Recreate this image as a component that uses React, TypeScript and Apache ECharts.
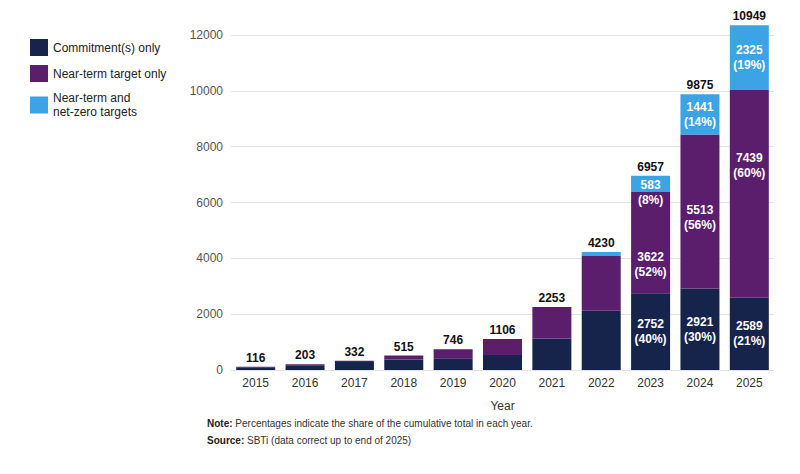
import React, { useEffect, useRef } from "react";
import * as echarts from "echarts";

// Companies with SBTi commitments / targets, cumulative per year
const years = ["2015", "2016", "2017", "2018", "2019", "2020", "2021", "2022", "2023", "2024", "2025"];
const commitmentOnly = [100, 170, 290, 380, 420, 540, 1130, 2120, 2752, 2921, 2589];
const nearTermOnly = [16, 33, 42, 135, 326, 566, 1123, 1960, 3622, 5513, 7439];
const nearAndNetZero = [0, 0, 0, 0, 0, 0, 0, 150, 583, 1441, 2325];
const totals = [116, 203, 332, 515, 746, 1106, 2253, 4230, 6957, 9875, 10949];

// Shares of the cumulative total (only labelled for the last three years)
const commitmentPct: (number | null)[] = [null, null, null, null, null, null, null, null, 40, 30, 21];
const nearTermPct: (number | null)[] = [null, null, null, null, null, null, null, null, 52, 56, 60];
const netZeroPct: (number | null)[] = [null, null, null, null, null, null, null, null, 8, 14, 19];

const yTicks = { min: 0, max: 12000, interval: 2000 };

const COLORS = { commit: "#16234b", near: "#5a1e6c", netZero: "#3ca3e4" };
const FONT = "'Liberation Sans', Arial, sans-serif";

function segmentData(values: number[], pcts: (number | null)[], offsets: Record<number, [number, number]>) {
  return values.map((v, i) => {
    const p = pcts[i];
    if (p === null) return { value: v, label: { show: false } };
    return {
      value: v,
      label: {
        show: true,
        position: "inside",
        offset: offsets[i] || [0, 0],
        formatter: `${v}\n(${p}%)`,
      },
    };
  });
}

export default function App() {
  const ref = useRef<HTMLDivElement>(null);

  useEffect(() => {
    if (!ref.current) return;
    const chart = echarts.init(ref.current, undefined, { renderer: "svg" });

    const segLabel = {
      color: "#ffffff",
      fontFamily: FONT,
      fontSize: 12,
      fontWeight: "bold",
      lineHeight: 15,
    };

    chart.setOption({
      animation: false,
      textStyle: { fontFamily: FONT },
      legend: {
        orient: "vertical",
        left: 25,
        top: 34,
        itemWidth: 18,
        itemHeight: 17,
        itemGap: 9,
        icon: "rect",
        textStyle: { fontFamily: FONT, fontSize: 12, color: "#222", lineHeight: 14 },
        data: ["Commitment(s) only", "Near-term target only", "Near-term and\nnet-zero targets"],
      },
      grid: { left: 231, right: 26, top: 35, bottom: 104 },
      xAxis: {
        type: "category",
        data: years,
        name: "Year",
        nameLocation: "middle",
        nameGap: 30,
        nameTextStyle: { fontFamily: FONT, fontSize: 12, color: "#333" },
        axisLine: { show: false },
        axisTick: { show: false },
        axisLabel: { fontFamily: FONT, fontSize: 12, color: "#333", margin: 7 },
      },
      yAxis: {
        type: "value",
        min: yTicks.min,
        max: yTicks.max,
        interval: yTicks.interval,
        axisLine: { show: false },
        axisTick: { show: false },
        axisLabel: {
          fontFamily: FONT,
          fontSize: 12,
          color: "#555",
          margin: 8,
          formatter: (v: number) => String(v),
        },
        splitLine: { lineStyle: { color: "#e2e2e2", width: 1 } },
      },
      series: [
        {
          name: "Commitment(s) only",
          type: "bar",
          stack: "total",
          clip: false,
          barCategoryGap: "21%",
          itemStyle: { color: COLORS.commit },
          label: segLabel,
          data: segmentData(commitmentOnly, commitmentPct, {}),
        },
        {
          name: "Near-term target only",
          type: "bar",
          stack: "total",
          clip: false,
          itemStyle: { color: COLORS.near },
          label: segLabel,
          data: segmentData(nearTermOnly, nearTermPct, { 8: [0, 22], 9: [0, 6], 10: [0, -28] }),
        },
        {
          name: "Near-term and\nnet-zero targets",
          type: "bar",
          stack: "total",
          clip: false,
          itemStyle: { color: COLORS.netZero },
          label: segLabel,
          data: segmentData(nearAndNetZero, netZeroPct, { 8: [0, 9] }),
        },
        {
          // zero-height cap carrying the total above each stack
          name: "total",
          type: "bar",
          stack: "total",
          clip: false,
          itemStyle: { color: "transparent" },
          silent: true,
          label: {
            show: true,
            position: "top",
            distance: 3,
            color: "#111",
            fontFamily: FONT,
            fontSize: 12,
            fontWeight: "bold",
            formatter: (p: any) => String(totals[p.dataIndex]),
          },
          data: years.map(() => 0),
        },
      ],
      graphic: [
        {
          type: "text",
          left: 207,
          top: 418,
          style: {
            text: "{b|Note:} Percentages indicate the share of the cumulative total in each year.",
            fontFamily: FONT,
            fontSize: 10,
            fill: "#333",
            rich: { b: { fontWeight: "bold", fontFamily: FONT, fontSize: 10, fill: "#222" } },
          },
        },
        {
          type: "text",
          left: 207,
          top: 435,
          style: {
            text: "{b|Source:} SBTi (data correct up to end of 2025)",
            fontFamily: FONT,
            fontSize: 10,
            fill: "#333",
            rich: { b: { fontWeight: "bold", fontFamily: FONT, fontSize: 10, fill: "#222" } },
          },
        },
      ],
    });

    return () => chart.dispose();
  }, []);

  return <div ref={ref} style={{ width: 800, height: 474, position: "absolute", left: 0, top: 0 }} />;
}
